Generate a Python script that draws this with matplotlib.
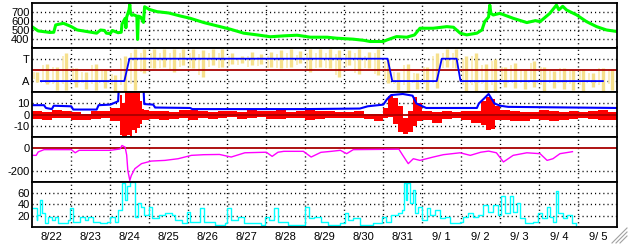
import numpy as np
import matplotlib
matplotlib.use("Agg")
import matplotlib.pyplot as plt
from matplotlib.lines import Line2D

plt.rcParams["font.family"] = ["Liberation Sans", "DejaVu Sans"]
plt.rcParams["lines.scale_dashes"] = False

# time axis: days since 8/22 00:00
DAY_LABELS = ["8/22", "8/23", "8/24", "8/25", "8/26", "8/27", "8/28", "8/29",
              "8/30", "8/31", "9/ 1", "9/ 2", "9/ 3", "9/ 4", "9/ 5"]

# solar wind speed (km/s)
SPEED_T = [0.0, 0.15, 0.45, 0.55, 0.6, 0.8, 1.0, 1.15, 1.4, 1.65, 1.75, 1.85, 1.9, 2.0,
           2.05, 2.2, 2.28, 2.3, 2.38, 2.4, 2.42, 2.48, 2.5, 2.52, 2.55, 2.6, 2.68, 2.7,
           2.72, 2.78, 2.85, 2.88, 3.0, 3.2, 3.5, 3.8, 4.05, 4.4, 4.74, 5.08, 5.42, 5.76,
           6.1, 6.45, 6.79, 7.13, 7.56, 7.8, 8.23, 8.5, 8.66, 9.0, 9.1, 9.34, 9.6, 9.8,
           9.94, 10.28, 10.63, 10.8, 10.97, 11.14, 11.4, 11.53, 11.6, 11.7, 11.73, 11.76,
           11.82, 11.99, 12.33, 12.68, 12.9, 13.02, 13.27, 13.44, 13.5, 13.6, 13.7, 13.96,
           14.21, 14.47, 14.72, 15.0]
SPEED_V = [530, 485, 468, 470, 552, 570, 533, 496, 478, 460, 495, 490, 460, 455,
           490, 465, 470, 560, 625, 520, 640, 720, 780, 680, 660, 665, 650, 390,
           650, 640, 580, 755, 725, 700, 685, 651, 626, 578, 541, 504, 460, 441,
           420, 430, 437, 415, 415, 404, 393, 380, 367, 367, 385, 422, 415, 440,
           515, 515, 533, 526, 460, 441, 460, 496, 589, 640, 774, 680,
           663, 681, 626, 578, 600, 589, 681, 774, 720, 760, 718, 663,
           589, 533, 496, 478]

# IMF sector (T = +1, A = -1)
SECTOR_T = [0.22, 2.36, 2.49, 9.11, 9.23, 10.37, 10.5, 10.88, 10.98, 14.63]
SECTOR_V = [-1, -1, 1, 1, -1, -1, 1, 1, -1, -1]

# IMF angle spread per 6 hours (same T/A units)
PHI_LO = [-1.1, -1.3, -1.8, -1.8, -1.5, -1.7, -1.8, -1.6, -1.9, -1.9,
          -1.8, -0.3, 0.2, 0.3, -0.2, 0.4, 0.2, -0.6, 0.4, 0.3,
          0.5, 0.6, 0.4, 0.5, 0.3, 0.2, 0.3, 0.6, -0.2, 0.3,
          0.2, -0.6, 0.4, -0.4, 0.2, -0.5, -1.2, -1.8, -1.9, -1.7,
          -1.8, -1.6, 0.3, 0.2, -1.9, -1.9, -1.8, -1.9, -1.5, -1.6,
          -1.7, -1.5, -1.9, -1.6, -1.7, -1.8, -1.9, -1.5, -1.9, -1.8]
PHI_HI = [-0.2, 0.5, 0.3, 1.5, 0.2, -0.2, 0.5, 0.0, -0.5, 1.2,
          1.9, 1.9, 1.9, 1.9, 1.9, 1.9, 1.9, 1.8, 1.9, 1.9,
          1.5, 1.2, 1.6, 1.4, 1.6, 1.8, 1.9, 1.7, 1.9, 1.9,
          1.9, 1.8, 1.8, 1.9, 1.6, 1.9, 1.0, -0.2, 0.5, -0.3,
          0.3, 1.5, 1.9, 1.9, 1.2, 1.5, 0.5, 1.0, 0.3, 0.6,
          0.0, 0.8, 0.3, -0.1, 0.2, 0.0, 0.1, -0.3, 0.2, 0.1]

# Bz range (nT), interval start times
BZ_T = [0.0, 0.25, 0.5, 0.75, 1.0, 1.25, 1.5, 1.75, 2.0, 2.25, 2.3125, 2.375, 2.4375,
        2.5, 2.5625, 2.625, 2.6875, 2.75, 2.8125, 2.875, 3.0, 3.25, 3.5, 3.75, 4.0,
        4.25, 4.5, 4.75, 5.0, 5.25, 5.5, 5.75, 6.0, 6.25, 6.5, 6.75, 7.0, 7.25, 7.5,
        7.75, 8.0, 8.25, 8.5, 8.75, 9.0, 9.125, 9.25, 9.375, 9.5, 9.625, 9.75, 9.875,
        10.0, 10.25, 10.5, 10.75, 11.0, 11.25, 11.5, 11.625, 11.75, 11.875, 12.0,
        12.25, 12.5, 12.75, 13.0, 13.25, 13.5, 13.75, 14.0, 14.25, 14.5, 14.75, 15.0]
BZ_LO = [-4, -5, -3, -3, -5, -5, -4, -3, -6, -18, -20, -20, -18,
         -20, -14, -16, -12, -8, -5, -5, -4, -5, -4, -3, -5,
         -3, -4, -3, -2, -4, -3, -2, -4, -4, -3, -3, -5, -4, -3,
         -3, -3, -3, -4, -6, -3, -2, -8, -15, -17, -15, -10, -6,
         -5, -7, -4, -3, -5, -7, -9, -14, -13, -5, -5,
         -6, -6, -4, -5, -6, -5, -4, -3, -4, -5, -5, -5]
BZ_HI = [3, 2, 4, 3, 2, 1, 3, 3, 6, 18, 10, 20, 20,
         20, 20, 20, 20, 12, 5, 4, 3, 3, 2, 4, 4,
         3, 2, 3, 3, 2, 4, 3, 3, 4, 2, 3, 4, 3, 3,
         2, 2, 3, 1, 1, 6, 17, 15, 8, -3, 3, 16, 10,
         3, 2, 3, 2, 3, 3, 12, 16, 14, 8, 4,
         3, 2, 2, 4, 3, 2, 3, 2, 3, 4, 2, 2]

# Bt (nT)
BT_T = [0, 0.3, 0.35, 0.5, 0.55, 1.0, 1.05, 1.65, 1.7, 2.0, 2.1, 2.2, 2.22, 2.85, 2.87,
        3.1, 3.15, 4.05, 4.1, 7.0, 8.4, 8.6, 9.0, 9.1, 9.2, 9.5, 9.75, 9.85, 10.1, 11.4,
        11.45, 11.6, 11.7, 11.78, 11.85, 12.0, 12.2, 15.0]
BT_V = [8.5, 8.5, 6, 5, 8, 7.5, 4.6, 4.6, 8.5, 9, 10.5, 12, 25, 25, 9.5,
        9, 6.4, 6, 5, 5, 5.5, 7.5, 9, 14, 17.5, 18.5, 17, 10, 6, 6,
        10, 15, 18.5, 14, 10, 8, 7, 6]

# Dst (nT)
DST_T = [0, 0.1, 0.15, 0.3, 1.0, 1.1, 1.2, 2.0, 2.25, 2.3, 2.38, 2.42, 2.45, 2.5, 2.54,
         2.63, 2.8, 3.05, 3.4, 3.74, 4.08, 4.4, 4.8, 5.1, 5.45, 6.0, 6.15, 6.3, 6.45,
         6.95, 7.15, 7.4, 7.67, 7.9, 8.06, 8.23, 9.4, 9.5, 9.64, 9.77, 9.94, 10.28,
         10.54, 10.97, 11.23, 11.5, 11.7, 11.9, 12.08, 12.33, 12.68, 13.02, 13.2, 13.35,
         13.53, 13.8, 13.85]
DST_V = [-63, -63, -33, -12, -12, -40, -18, -18, -6, 25, 10, -60, -200, -287, -242,
         -182, -137, -114, -108, -93, -63, -57, -55, -78, -40, -35, -72, -35, -27,
         -27, -78, -36, -27, -18, -48, -12, -8, -63, -137, -93, -108, -78,
         -57, -40, -63, -35, -25, -40, -122, -63, -40, -48, -108, -93,
         -48, -33, -30]

# activity index
KP_T = [0.0, 0.11, 0.13, 0.2, 0.24, 0.33, 0.41, 0.5, 0.58, 0.67, 0.8, 0.92, 0.97, 1.05,
        1.22, 1.35, 1.44, 1.56, 1.74, 1.91, 2.0, 2.12, 2.21, 2.29, 2.38, 2.44, 2.5, 2.58,
        2.64, 2.7, 2.78, 2.86, 2.99, 3.07, 3.24, 3.41, 3.58, 3.66, 3.83, 3.96, 4.04, 4.3,
        4.39, 4.68, 4.93, 5.0, 5.1, 5.27, 5.44, 5.87, 5.96, 6.08, 6.2, 6.29, 6.55, 6.9,
        6.99, 7.1, 7.23, 7.4, 7.59, 7.72, 7.89, 8.02, 8.1, 8.23, 8.4, 8.74, 8.96, 9.08,
        9.21, 9.38, 9.47, 9.53, 9.58, 9.62, 9.68, 9.75, 9.81, 9.9, 9.98, 10.11, 10.2,
        10.33, 10.46, 10.58, 10.71, 10.97, 11.05, 11.18, 11.3, 11.43, 11.56, 11.69, 11.82,
        11.95, 12.03, 12.12, 12.25, 12.33, 12.42, 12.51, 12.64, 12.85, 12.97, 13.06, 13.19,
        13.27, 13.35, 13.42, 13.48, 13.61, 13.7, 13.83, 13.93]
KP_V = [33, 12, 21, 48, 24, 6, 18, 12, 18, 6, 6, 12, 33, 9,
        18, 12, 18, 9, 6, 9, 18, 9, 30, 78, 48, 72, 80, 80,
        18, 42, 36, 21, 36, 15, 21, 24, 21, 12, 6, 27, 9, 33,
        9, 3, 6, 33, 12, 18, 6, 3, 18, 12, 33, 9, 3, 3,
        36, 15, 18, 9, 3, 3, 6, 24, 12, 15, 3, 6, 18, 9,
        21, 24, 30, 78, 48, 78, 42, 66, 24, 36, 12, 33, 21,
        30, 15, 18, 6, 9, 18, 24, 18, 21, 39, 27, 39,
        21, 54, 24, 54, 27, 42, 15, 6, 9, 24, 15, 36,
        18, 9, 63, 24, 15, 21, 6, 0]

W, H = 628, 244
LEFT, RIGHT, TOP, BOTTOM = 32.3, 617.3, 2.7, 226.7
DOT = (0, (0.8, 2.2))
ZERO_RED = "#a80000"
FS = 8


def style_panel(ax, ylim, yticks, yticklabels, hgrid=None):
    ax.set_xlim(0, 15)
    ax.set_ylim(*ylim)
    ax.set_yticks(yticks)
    ax.set_yticklabels(yticklabels)
    ax.set_xticks([])
    ax.tick_params(length=0, pad=2, labelsize=FS)
    for y in (yticks if hgrid is None else hgrid):
        ax.axhline(y, color="black", lw=1.0, ls=DOT, zorder=1)
    for d in range(1, 15):
        ax.axvline(d, color="black", lw=1.0, ls=DOT, zorder=1)
    for s in ax.spines.values():
        s.set_linewidth(1.3)
        s.set_zorder(10)


def main():
    fig = plt.figure(figsize=(W / 100, H / 100), dpi=100)
    ph = (BOTTOM - TOP) / 5
    axes = []
    for i in range(5):
        top = TOP + i * ph
        ax = fig.add_axes([LEFT / W, 1 - (top + ph) / H, (RIGHT - LEFT) / W, ph / H])
        axes.append(ax)
    ax1, ax2, ax3, ax4, ax5 = axes

    # speed
    style_panel(ax1, (300, 800), [400, 500, 600, 700], ["400", "500", "600", "700"])
    ax1.plot(SPEED_T, SPEED_V, color="#00ff00", lw=2.2, zorder=3)

    # sector
    style_panel(ax2, (-2, 2), [1, -1], ["T", "A"])
    phi_t = np.arange(len(PHI_LO)) * 0.25 + 0.125
    ax2.vlines(phi_t, PHI_LO, PHI_HI, color="#f6e08c", lw=2.4, zorder=2)
    ax2.vlines(phi_t - 0.09, np.array(PHI_LO) * 0.7, np.array(PHI_HI) * 0.8,
               color="#f9eab0", lw=1.2, zorder=2)
    ax2.axhline(0, color=ZERO_RED, lw=1.3, zorder=3)
    ax2.plot(SECTOR_T, SECTOR_V, color="#0000ff", lw=1.3, zorder=4)

    # IMF
    style_panel(ax3, (-20, 20), [10, 0, -10], ["10", "0", "-10"], hgrid=[10, -10])
    lo = np.array(BZ_LO, dtype=float)
    hi = np.array(BZ_HI, dtype=float)
    ax3.fill_between(BZ_T, lo, hi, step="post", color="#ff0000", lw=0, zorder=2)
    ax3.plot(BT_T, BT_V, color="#0000ff", lw=1.5, zorder=3)
    ax3.axhline(0, color=ZERO_RED, lw=1.3, zorder=4)

    # Dst
    style_panel(ax4, (-300, 100), [0, -200], ["0", "-200"], hgrid=[-200])
    ax4.axhline(0, color=ZERO_RED, lw=1.3, zorder=2)
    ax4.plot(DST_T, DST_V, color="#ff00ff", lw=1.0, zorder=3)

    # activity
    style_panel(ax5, (0, 80), [20, 40, 60], ["20", "40", "60"])
    ax5.plot(KP_T, KP_V, color="#00ffff", lw=1.0, drawstyle="steps-post", zorder=3)
    ax5.set_xticks(np.arange(15) + 0.5)
    ax5.set_xticklabels(DAY_LABELS)
    ax5.tick_params(axis="x", length=0, pad=4, labelsize=FS)

    # window resize grip
    for k in range(3):
        off = 4 * k
        x0, y0 = (612 + off) / W, 1 / H
        x1, y1 = 627 / W, (16 - off) / H
        fig.add_artist(Line2D([x0, x1], [y0, y1], color="#a0a0a0", lw=0.8,
                              transform=fig.transFigure))

    fig.savefig("out.png", dpi=100)
    plt.close(fig)


if __name__ == "__main__":
    main()
